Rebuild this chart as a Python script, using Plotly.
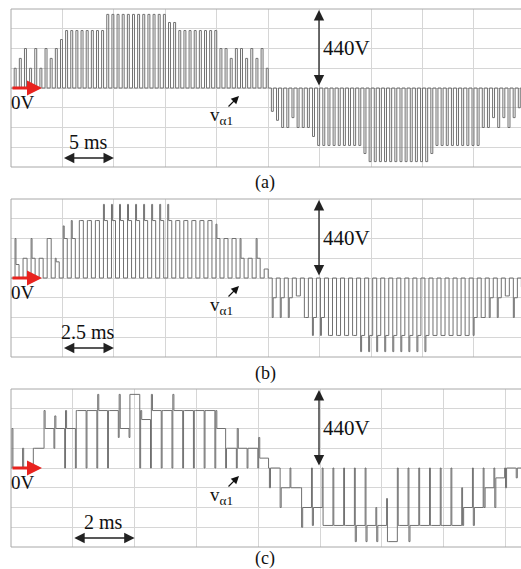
import plotly.graph_objects as go

W, H = 521, 569

# ---------------- data (volts) ----------------
# (a) 20 Hz output, 5 ms/div, one pulse top per switching period
A_PERIOD_MS = 50.0
A_TOPS = [110, 165, 220, 110, 220, 110, 220, 165, 220, 270,
          320, 320, 320, 320, 320, 320, 320, 320,
          410, 410,
          410, 410, 410, 410, 410, 410, 410, 410, 410, 410,
          365, 365,
          320, 320, 320, 320, 320, 320, 320, 320,
          220, 220, 165, 220, 220, 165, 220, 165, 220,
          110,
          -130, -180,
          -220, -220, -165, -220, -220, -220,
          -270,
          -320, -320, -320, -320, -320, -320, -320, -320, -320,
          -365,
          -410, -410, -410, -410, -410, -410, -410, -410, -410, -410, -410, -410,
          -365,
          -320, -320, -320, -320, -320, -320, -320, -320, -320,
          -220, -220, -165, -220, -165, -220, -165,
          -110, -110]
A_BASE = [0] * len(A_TOPS)

# (b) 40 Hz output, 2.5 ms/div: main pulse level and short peak level
B_PERIOD_MS = 25.0
B_MAIN = [75, 110, 110, 110, 220, 90, 220, 220, 320, 320,
          320, 320, 320, 320, 320, 320, 320, 320, 320, 320,
          320, 320, 320, 320, 320, 220, 220, 220, 110, 110,
          110, 50,
          -110, -110, -110, -100, -220, -220, -220, -320, -320, -320,
          -320, -320, -320, -320, -320, -320, -320, -320, -320, -320,
          -320, -320, -320, -320, -320, -220, -220, -110, -110, -100,
          -110, -50]
B_PEAK = [220, 110, 220, 110, 220, 110, 290, 320, 320, 320,
          320, 410, 410, 410, 410, 410, 410, 410, 410, 410,
          320, 320, 320, 320, 320, 300, 220, 220, 220, 110,
          220, 50,
          -220, -220, -220, -100, -220, -320, -320, -320, -320, -320,
          -320, -410, -410, -410, -410, -410, -410, -410, -410, -410,
          -320, -320, -320, -320, -320, -320, -220, -220, -220, -100,
          -220, -50]
B_BASE = [0] * len(B_MAIN)

# (c) 60 Hz output, 2 ms/div: plateau, spike and dip level per switching period
C_PERIOD_MS = 16.67
C_PLATEAU = [0, 0, 110, 220, 220, 220, 320, 320, 320, 320,
             220, 410, 270, 320, 320, 320, 320, 320, 320, 220,
             110, 110, 110, 55,
             0, -110, -110, -220, -220, -320, -320, -320, -320, -320,
             -320, -410, -320, -320, -320, -320, -320, -320, -220, -220,
             -110, -55, 0, 0]
C_SPIKE = [220, 110, 110, 320, 290, 320, 320, 320, 410, 320,
           410, 410, 320, 410, 320, 410, 320, 320, 320, 320,
           110, 220, 110, 170,
           -110, -220, -110, -330, -320, -320, -320, -320, -410, -410,
           -410, -410, -320, -410, -320, -320, -320, -320, -320, -320,
           -220, -220, -110, -55]
C_DIP = [0, 0, 0, 110, 110, 0, 0, 0, 0, 0,
         170, 170, 0, 0, 0, 0, 0, 0, 0, 0,
         0, 0, 0, 0,
         0, 0, 0, -110, 0, 0, 0, 0, 0, 0,
         -220, -170, 0, 0, 0, 0, 0, 0, -110, 0,
         0, 0, 0, 0]

PANEL_LABELS = ["(a)", "(b)", "(c)"]
SCALE_LABELS = ["5 ms", "2.5 ms", "2 ms"]
MS_PER_DIV = [5.0, 2.5, 2.0]
VOLT_PER_DIV = 110

# ---------------- layout geometry (pixels) ----------------
X0 = 11
DIV_PX = [51.44, 51.44, 61.8]
TOPS = [9, 199, 389]
BOTS = [167, 357, 547]
CAPTION_Y = [182, 373, 558]


def build(plateau, spike, dip, period_ms, wd, ws):
    n = len(plateau)
    T = period_ms / n
    t, v = [], []
    for k in range(n):
        t0 = k * T
        t.append(t0); v.append(dip[k])
        if ws > 0:
            t.append(t0 + wd * T); v.append(spike[k])
        t.append(t0 + (wd + ws) * T); v.append(plateau[k])
    t.append(n * T); v.append(plateau[-1])
    return t, v


waves = [
    build(A_TOPS, A_TOPS, A_BASE, A_PERIOD_MS, 0.62, 0.0),
    build(B_MAIN, B_PEAK, B_BASE, B_PERIOD_MS, 0.50, 0.12),
    build(C_PLATEAU, C_SPIKE, C_DIP, C_PERIOD_MS, 0.08, 0.10),
]

fig = go.Figure()
WAVE_COLOR = "#707070"
GRID = "#d6d6d6"
BORDER = "#a8a8a8"
FONT = "Times New Roman, Liberation Serif, DejaVu Serif, serif"

def px(x):
    return x / W

def py(y):
    return 1 - y / H

layout = dict(width=W, height=H, margin=dict(l=0, r=0, t=0, b=0),
              paper_bgcolor="white", plot_bgcolor="white", showlegend=False)
shapes = []
annotations = []

for i in range(3):
    sfx = "" if i == 0 else str(i + 1)
    t, v = waves[i]
    fig.add_trace(go.Scatter(x=t, y=v, mode="lines", line=dict(color=WAVE_COLOR, width=1, shape="hv"),
                             xaxis="x" + sfx, yaxis="y" + sfx, hoverinfo="skip"))
    xr = (W - X0) / DIV_PX[i] * MS_PER_DIV[i]
    layout["xaxis" + sfx] = dict(domain=[px(X0), 1], range=[0, xr], dtick=MS_PER_DIV[i], tick0=0,
                                 showgrid=True, gridcolor=GRID, gridwidth=1, zeroline=False,
                                 showticklabels=False, ticks="", showline=False,
                                 anchor="y" + sfx, fixedrange=True)
    layout["yaxis" + sfx] = dict(domain=[py(BOTS[i]), py(TOPS[i])], range=[-4 * VOLT_PER_DIV, 4 * VOLT_PER_DIV],
                                 dtick=VOLT_PER_DIV, tick0=0,
                                 showgrid=True, gridcolor=GRID, gridwidth=1, zeroline=False,
                                 showticklabels=False, ticks="", showline=False,
                                 anchor="x" + sfx, fixedrange=True)
    top, bot = TOPS[i], BOTS[i]
    zero = (top + bot) / 2
    # border (left, top, bottom)
    for (x0_, y0_, x1_, y1_) in [(X0, top, X0, bot), (X0, top, W, top), (X0, bot, W, bot)]:
        shapes.append(dict(type="line", xref="paper", yref="paper", x0=px(x0_), y0=py(y0_),
                           x1=px(x1_), y1=py(y1_), line=dict(color=BORDER, width=1)))
    # 440V double arrow
    annotations.append(dict(xref="paper", yref="paper", x=px(319), y=py(top + 1), ax=0, ay=(zero - 1) - (top + 1),
                            axref="pixel", ayref="pixel", text="", showarrow=True, arrowhead=2,
                            arrowside="end+start", arrowsize=1.6, arrowwidth=1.3, arrowcolor="#222"))
    annotations.append(dict(xref="paper", yref="paper", x=px(347), y=py(top + 39), text="440V",
                            showarrow=False, font=dict(family=FONT, size=21, color="#111"),
                            xanchor="center", yanchor="middle"))
    # time-scale double arrow
    a0 = X0 + DIV_PX[i]
    a1 = X0 + 2 * DIV_PX[i]
    ya = bot - 9
    annotations.append(dict(xref="paper", yref="paper", x=px(a1), y=py(ya), ax=a0 - a1, ay=0,
                            axref="pixel", ayref="pixel", text="", showarrow=True, arrowhead=2,
                            arrowside="end+start", arrowsize=1.6, arrowwidth=1.3, arrowcolor="#222"))
    annotations.append(dict(xref="paper", yref="paper", x=px((a0 + a1) / 2),
                            y=py(bot - 25), text=SCALE_LABELS[i],
                            showarrow=False, font=dict(family=FONT, size=20, color="#111"),
                            xanchor="center", yanchor="middle"))
    # red 0V arrow
    annotations.append(dict(xref="paper", yref="paper", x=px(42), y=py(zero), ax=-31, ay=0,
                            axref="pixel", ayref="pixel", text="", showarrow=True, arrowhead=2,
                            arrowsize=1.0, arrowwidth=3, arrowcolor="#e8231f"))
    annotations.append(dict(xref="paper", yref="paper", x=px(23), y=py(zero + 14), text="0V",
                            showarrow=False, font=dict(family=FONT, size=19, color="#111"),
                            xanchor="center", yanchor="middle"))
    # v_alpha1 label with small arrow
    annotations.append(dict(xref="paper", yref="paper", x=px(221), y=py(zero + 28), text="v<sub>α1</sub>",
                            showarrow=False, font=dict(family=FONT, size=19, color="#111"),
                            xanchor="center", yanchor="middle"))
    annotations.append(dict(xref="paper", yref="paper", x=px(239), y=py(zero + 8), ax=-12, ay=12,
                            axref="pixel", ayref="pixel", text="", showarrow=True, arrowhead=2,
                            arrowsize=1.3, arrowwidth=1.2, arrowcolor="#111"))
    # panel caption
    annotations.append(dict(xref="paper", yref="paper", x=px(265), y=py(CAPTION_Y[i]), text=PANEL_LABELS[i],
                            showarrow=False, font=dict(family=FONT, size=18, color="#111"),
                            xanchor="center", yanchor="middle"))

layout["shapes"] = shapes
layout["annotations"] = annotations
fig.update_layout(**layout)
fig.write_html("out.html")
